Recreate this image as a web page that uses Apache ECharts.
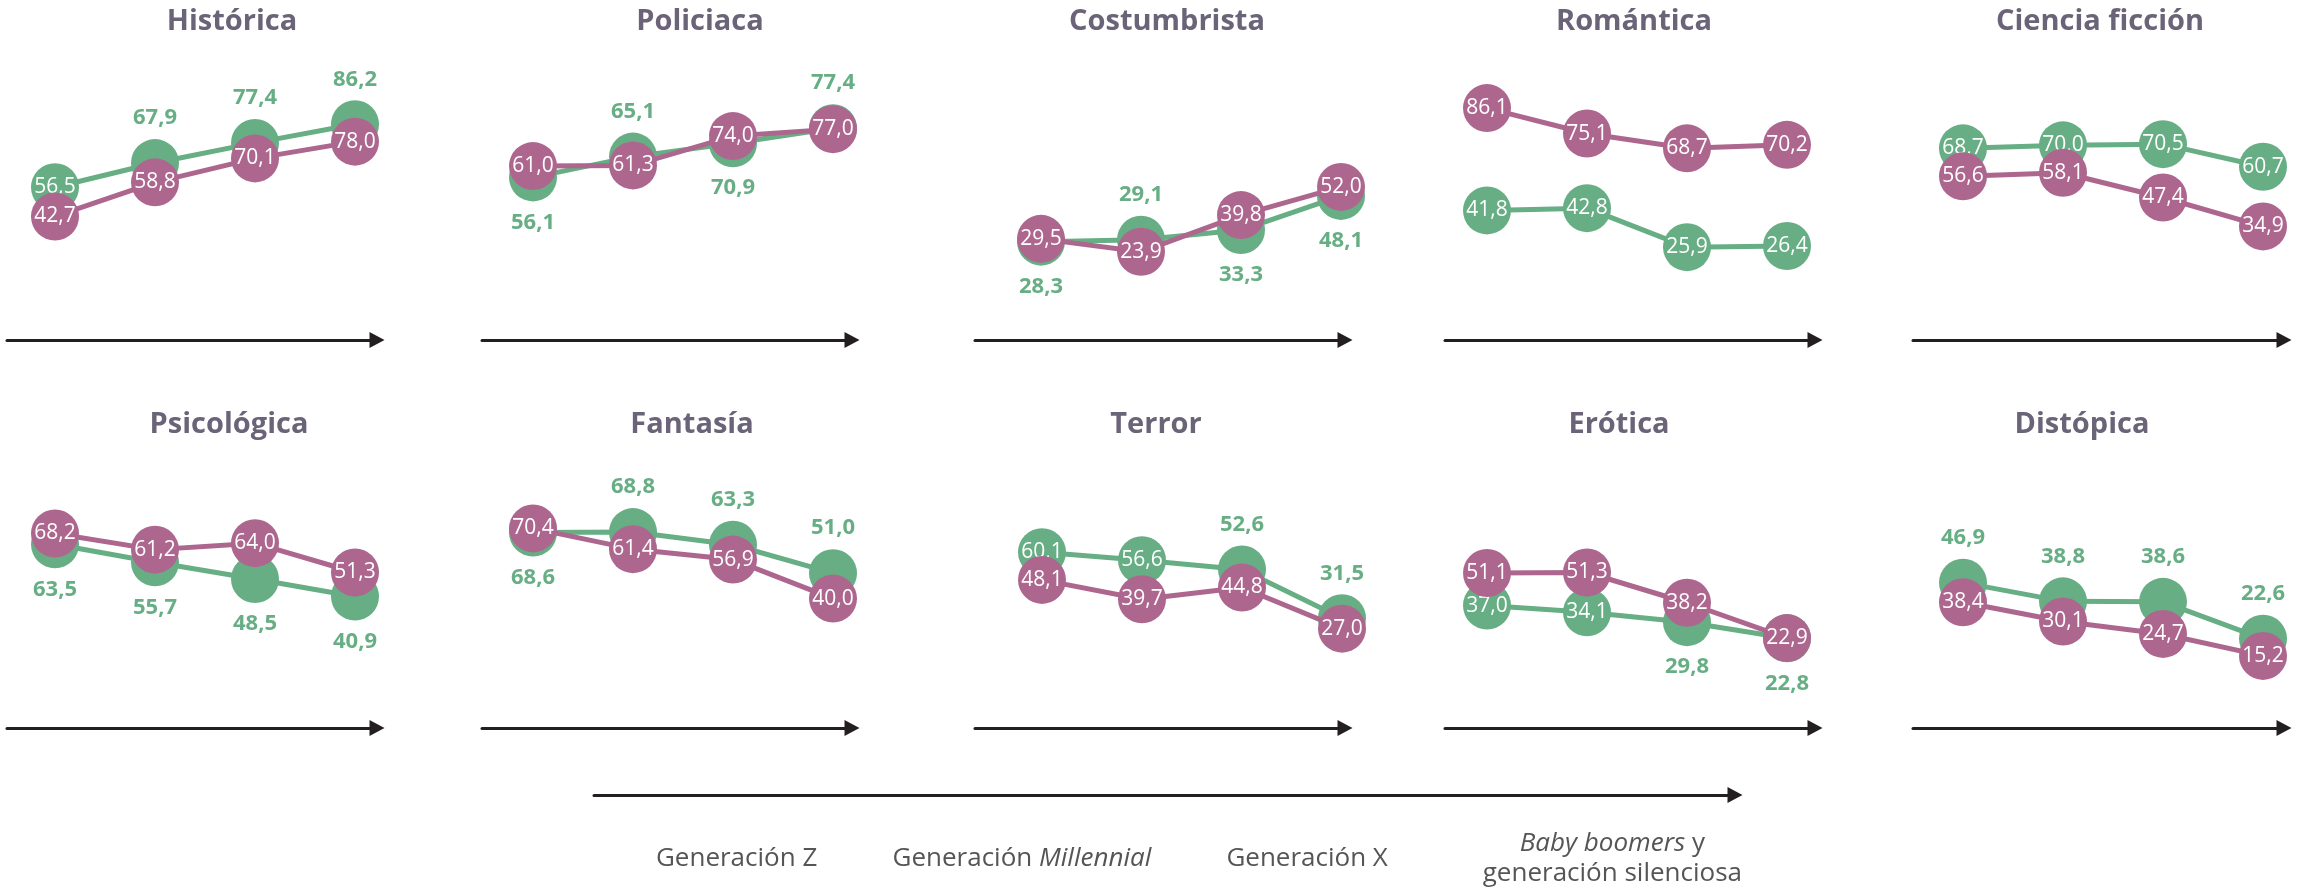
<!DOCTYPE html>
<html lang="es">
<head>
<meta charset="UTF-8">
<title>Géneros por generación</title>
<script src="https://cdn.jsdelivr.net/npm/echarts@6/dist/echarts.min.js"></script>
<style>
    html, body { margin: 0; padding: 0; background: #fff; }
    #main { width: 2305px; height: 887px; }
</style>
</head>
<body>
<div id="main"></div>
<script>
// eje común de generaciones
const generaciones = ['Generación Z', 'Generación Millennial', 'Generación X', 'Baby boomers y generación silenciosa'];

const generos = ['Histórica', 'Policiaca', 'Costumbrista', 'Romántica', 'Ciencia ficción',
                 'Psicológica', 'Fantasía', 'Terror', 'Erótica', 'Distópica'];

// serie verde
const verde = [
    [56.5, 67.9, 77.4, 86.2],
    [56.1, 65.1, 70.9, 77.4],
    [28.3, 29.1, 33.3, 48.1],
    [41.8, 42.8, 25.9, 26.4],
    [68.7, 70.0, 70.5, 60.7],
    [63.5, 55.7, 48.5, 40.9],
    [68.6, 68.8, 63.3, 51.0],
    [60.1, 56.6, 52.6, 31.5],
    [37.0, 34.1, 29.8, 22.8],
    [46.9, 38.8, 38.6, 22.6]
];

// serie morada
const morado = [
    [42.7, 58.8, 70.1, 78.0],
    [61.0, 61.3, 74.0, 77.0],
    [29.5, 23.9, 39.8, 52.0],
    [86.1, 75.1, 68.7, 70.2],
    [56.6, 58.1, 47.4, 34.9],
    [68.2, 61.2, 64.0, 51.3],
    [70.4, 61.4, 56.9, 40.0],
    [48.1, 39.7, 44.8, 27.0],
    [51.1, 51.3, 38.2, 22.9],
    [38.4, 30.1, 24.7, 15.2]
];

// donde va la etiqueta verde: i = dentro, t = arriba, b = abajo
const posVerde = [
    ['i', 't', 't', 't'],
    ['b', 't', 'b', 't'],
    ['b', 't', 'b', 'b'],
    ['i', 'i', 'i', 'i'],
    ['i', 'i', 'i', 'i'],
    ['b', 'b', 'b', 'b'],
    ['b', 't', 't', 't'],
    ['i', 'i', 't', 't'],
    ['i', 'i', 'b', 'b'],
    ['t', 't', 't', 't']
];

// --- layout (px) ---
const VERDE = '#67ae85', MORADO = '#ad678f', TITULO = '#6b6478', FLECHA = '#231f20';
const FONT = 'Open Sans';
// inicio flecha, primer punto, punta flecha, centro título
const panelX = [
    [7, 55, 385, 232], [482, 533, 860, 700], [975, 1041, 1353, 1167], [1445, 1487, 1823, 1634], [1913, 1963, 2292, 2100],
    [7, 55, 385, 229], [482, 533, 860, 692], [975, 1042, 1353, 1156], [1445, 1487, 1823, 1619], [1913, 1963, 2292, 2082]
];
const rows = [
    { zeroY: 307, arrowY: 340, titleY: 22 },
    { zeroY: 691, arrowY: 728, titleY: 425 }
];
const ppuBase = 2.31;
const ppu = [2.12, 2.31, 2.31, 2.31, 2.31, 2.31, 2.31, 2.31, 2.31, 2.31];
const STEP = 100;   // px entre generaciones
const HEAD = 8;     // media punta de flecha

const fmt = v => v.toFixed(1).replace('.', ',');

let grid = [], xAxis = [], yAxis = [], series = [], graphic = [];

generos.forEach((g, i) => {
    const row = rows[i < 5 ? 0 : 1];
    const [x0, p0, tip, tc] = panelX[i];
    const lineEnd = tip - HEAD;
    const top = row.zeroY - 100 * ppuBase;
    grid.push({ left: x0, top: top, width: lineEnd - x0, height: row.arrowY - top, outerBoundsMode: 'none' });
    xAxis.push({
        type: 'value', gridIndex: i,
        min: (x0 - p0) / STEP, max: (lineEnd - p0) / STEP,
        axisLine: { show: true, onZero: false, symbol: ['none', 'triangle'], symbolSize: [16, 15],
                    lineStyle: { color: FLECHA, width: 3 } },
        axisTick: { show: false }, axisLabel: { show: false }, splitLine: { show: false }
    });
    yAxis.push({
        type: 'value', gridIndex: i, show: false,
        min: -(row.arrowY - row.zeroY) / ppu[i], max: (row.zeroY - top) / ppu[i]
    });

    series.push({
        type: 'line', name: 'verde', xAxisIndex: i, yAxisIndex: i, z: 2,
        symbol: 'circle', symbolSize: 48,
        lineStyle: { color: VERDE, width: 5 }, itemStyle: { color: VERDE },
        data: verde[i].map((v, j) => {
            const p = posVerde[i][j];
            const label = p === 'i'
                ? { position: 'inside', color: '#fff', fontWeight: 'normal', fontSize: 21 }
                : { position: p === 't' ? 'top' : 'bottom', distance: 10, color: VERDE, fontWeight: 'bold', fontSize: 22 };
            return { value: [j, v], label: label };
        }),
        label: { show: true, fontFamily: FONT, formatter: p => fmt(p.value[1]) },
        emphasis: { disabled: true }
    });
    series.push({
        type: 'line', name: 'morado', xAxisIndex: i, yAxisIndex: i, z: 3,
        symbol: 'circle', symbolSize: 48,
        lineStyle: { color: MORADO, width: 5 }, itemStyle: { color: MORADO },
        data: morado[i].map((v, j) => [j, v]),
        label: { show: true, position: 'inside', color: '#fff', fontSize: 21, fontFamily: FONT,
                 formatter: p => fmt(p.value[1]) },
        emphasis: { disabled: true }
    });

    graphic.push({
        type: 'text', x: tc, y: row.titleY,
        style: { text: g, align: 'center', verticalAlign: 'middle', fill: TITULO,
                 fontSize: 29, fontWeight: 'bold', fontFamily: FONT }
    });
});

// eje de generaciones abajo
const gi = generos.length;
grid.push({ left: 594, top: 700, width: 1743 - HEAD - 594, height: 95, outerBoundsMode: 'none' });
xAxis.push({
    type: 'category', gridIndex: gi, boundaryGap: true,
    // la última etiqueta está algo desplazada a la derecha en el original
    data: generaciones.map((s, k) => k === 3
        ? { value: s, textStyle: { padding: [0, 0, 0, 40], verticalAlign: 'middle' } } : s),
    axisLine: { show: true, onZero: false, symbol: ['none', 'triangle'], symbolSize: [16, 15],
                lineStyle: { color: FLECHA, width: 3 } },
    axisTick: { show: false }, splitLine: { show: false },
    axisLabel: {
        interval: 0, margin: 64, verticalAlign: 'middle', color: '#555', fontSize: 26, fontFamily: FONT,
        lineHeight: 30,
        formatter: s => s.replace('Millennial', '{i|Millennial}')
                         .replace('Baby boomers y ', '{i|Baby boomers} y\n'),
        rich: { i: { fontStyle: 'italic', color: '#555', fontSize: 26, fontFamily: FONT, lineHeight: 30 } }
    }
});
yAxis.push({ type: 'value', gridIndex: gi, show: false, min: 0, max: 1 });

const chart = echarts.init(document.getElementById('main'));
chart.setOption({
    animation: false,
    backgroundColor: '#fff',
    grid: grid, xAxis: xAxis, yAxis: yAxis, series: series, graphic: graphic
});
</script>
</body>
</html>
